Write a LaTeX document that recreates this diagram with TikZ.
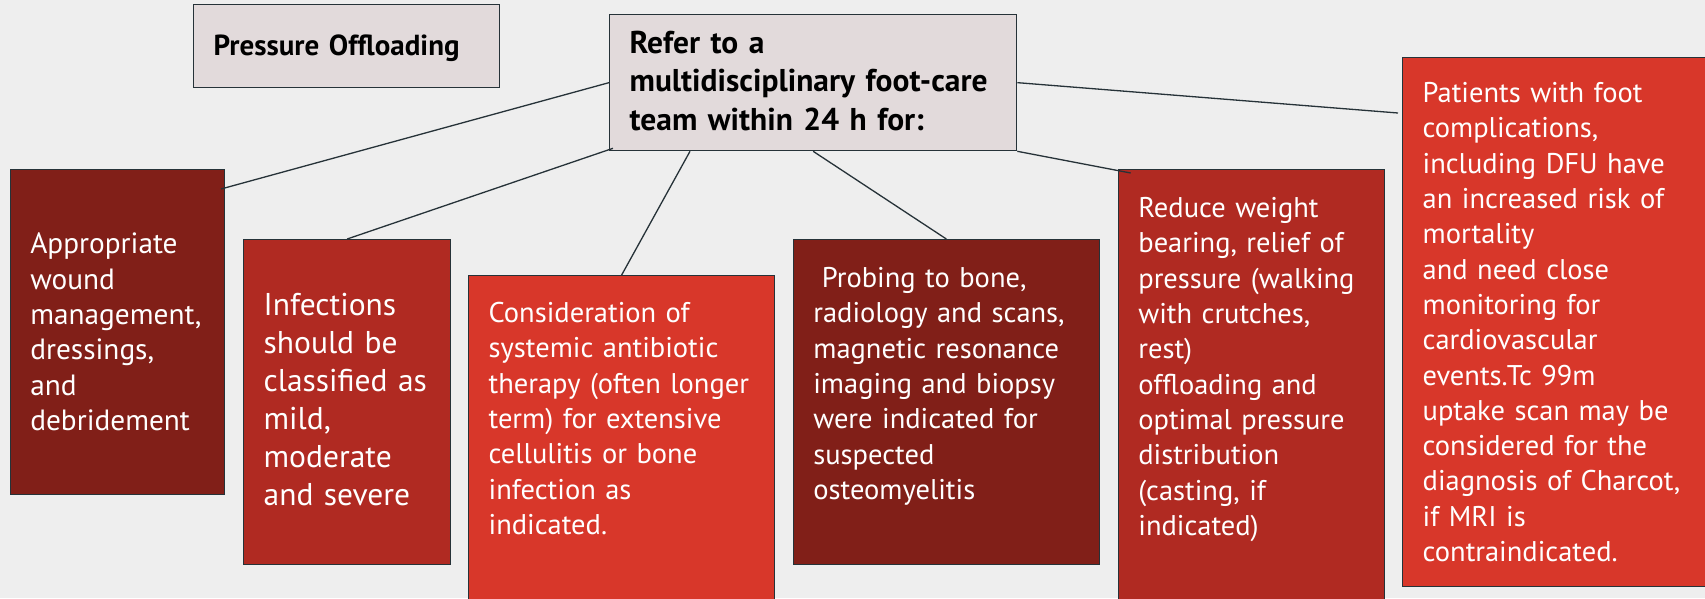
\documentclass[tikz,border=0pt]{standalone}
\usepackage{fontspec}
\setmainfont{PT Sans}
\usetikzlibrary{calc}
\definecolor{figBg}{RGB}{238,238,238}
\definecolor{figLine}{RGB}{38,50,56}
\definecolor{figPale}{RGB}{226,218,219}
\definecolor{figDark}{RGB}{129,31,24}
\definecolor{figMid}{RGB}{176,42,34}
\definecolor{figRed}{RGB}{216,55,42}

\begin{document}
\begin{tikzpicture}[x=1pt,y=-1pt,
  box/.style={draw=figLine,line width=1.3pt,anchor=north west,inner ysep=0pt,inner xsep=20pt,align=left},
  pale/.style={box,fill=figPale,text=black,font=\fontsize{31.5pt}{38.3pt}\selectfont\bfseries},
  redbox/.style={box,text=white,font=\fontsize{28.5pt}{35.3pt}\selectfont},
  link/.style={figLine,line width=1.3pt}]
\fill[figBg] (0,0) rectangle (1705,598);
\useasboundingbox (0,0) rectangle (1705,598);
\clip (0,0) rectangle (1705,598);

\node[pale,font=\fontsize{29pt}{38.3pt}\selectfont\bfseries,text width=266pt,text height=51pt,text depth=32pt] (press) at (193,4) {Pressure Offloading};
\node[pale,text width=367pt,text height=39pt,text depth=97pt] (refer) at (609,14)
  {Refer to a\\ multidisciplinary foot-care\\ team within 24 h for:};

\node[redbox,fill=figDark,font=\fontsize{29.3pt}{35.4pt}\selectfont,text width=174pt,text height=84pt,text depth=241pt] (wound) at (9.7,169)
  {Appropriate\\ wound\\ management,\\ dressings,\\ and\\ debridement};
\node[redbox,fill=figMid,font=\fontsize{31.5pt}{38pt}\selectfont,text width=167pt,text height=76pt,text depth=249pt] (infect) at (243,239)
  {Infections\\ should be\\ classified as\\ mild,\\ moderate\\ and severe};
\node[redbox,fill=figRed,text width=266pt,text height=47pt,text depth=330pt] (antib) at (468,275)
  {Consideration of\\ systemic antibiotic\\ therapy (often longer\\ term) for extensive\\ cellulitis or bone\\ infection as\\ indicated.};
\node[redbox,fill=figDark,text width=266pt,text height=48pt,text depth=277pt] (probe) at (792.7,239)
  {\hspace*{0.3em}Probing to bone,\\ radiology and scans,\\ magnetic resonance\\ imaging and biopsy\\ were indicated for\\ suspected\\ osteomyelitis};
\node[redbox,fill=figMid,text width=226pt,text height=48pt,text depth=420pt] (offload) at (1117.7,169)
  {Reduce weight\\ bearing, relief of\\ pressure (walking\\ with crutches,\\ rest)\\ offloading and\\ optimal pressure\\ distribution\\ (casting, if\\ indicated)};
\node[redbox,fill=figRed,text width=278pt,text height=45pt,text depth=484pt] (risk) at (1402,57)
  {Patients with foot\\ complications,\\ including DFU have\\ an increased risk of\\ mortality\\ and need close\\ monitoring for\\ cardiovascular\\ events.Tc 99m\\ uptake scan may be\\ considered for the\\ diagnosis of Charcot,\\ if MRI is\\ contraindicated.};

% connectors from the referral box
\draw[link] (refer.west) -- ($(wound.north east)+(-4,20)$);
\draw[link] ($(refer.south west)+(4,-3)$) -- (infect.north);
\draw[link] ($(refer.south west)+(81,0)$) -- (antib.north);
\draw[link] (refer.south) -- (probe.north);
\draw[link] (refer.south east) -- ($(offload.north west)+(13,4)$);
\draw[link] (refer.east) -- ($(risk.north west)+(-4,56)$);
\end{tikzpicture}
\end{document}
